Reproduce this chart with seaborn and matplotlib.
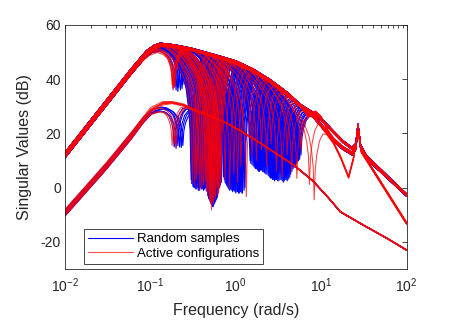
import numpy as np
import pandas as pd
import matplotlib
matplotlib.use("Agg")
import matplotlib.pyplot as plt
import seaborn as sns
from matplotlib.lines import Line2D
from matplotlib.ticker import LogLocator, LogFormatterSciNotation, NullFormatter, FixedLocator

# ---------------- data ----------------
# upper singular value band (lower / upper edge of the bundle), rad/s -> dB
UP_F  = [0.01, 0.03, 0.06, 0.09, 0.11, 0.13, 0.16, 0.2, 0.3, 0.45, 0.66, 1.0, 1.6, 2.5, 4.0, 5.6]
UP_LO = [11.0, 30.0, 42.0, 48.5, 51.0, 52.0, 52.0, 51.5, 50.5, 49.0, 47.5, 45.5, 42.5, 38.8, 34.0, 30.0]
UP_HI = [13.0, 32.0, 44.0, 50.5, 52.5, 53.3, 53.0, 52.6, 51.5, 50.0, 48.5, 46.8, 43.8, 40.0, 35.2, 31.0]

# high-frequency tails of the upper singular value
TAIL_A_F  = [8.0, 11.0, 14.0, 18.0, 23.0, 25.5, 27.0, 29.0, 34.0, 100.0]
TAIL_A_DB = [26.5, 21.5, 17.5, 14.5, 12.5, 14.5, 23.0, 15.0, 11.0, -2.7]
TAIL_B_F  = [8.0, 11.0, 14.0, 18.0, 23.0, 25.5, 27.0, 29.0, 34.0, 100.0]
TAIL_B_DB = [27.5, 24.0, 20.5, 17.0, 14.5, 16.0, 23.0, 15.5, 11.5, -2.7]
TAIL_C_F  = [7.0, 8.6, 10.0, 12.0, 14.0, 18.0, 23.0, 25.5, 27.0, 29.6, 100.0]
TAIL_C_DB = [26.5, 28.0, 26.0, 21.0, 18.0, 15.0, 13.0, 15.0, 22.5, 13.3, -13.1]
TAIL_D_F  = [8.0, 11.0, 14.0, 17.0, 21.0, 24.0, 27.0, 29.6, 100.0]
TAIL_D_DB = [26.5, 21.0, 16.5, 11.0, 3.8, 11.0, 21.0, 13.3, -13.1]

# lower singular value band
LOW_F  = [0.01, 0.031, 0.06, 0.1, 0.14, 0.18, 0.25, 0.32, 0.5, 0.79, 1.2, 1.94, 3.0, 4.76, 8.0, 12.0, 16.8, 30.0, 60.0, 100.0]
LOW_LO = [-10.5, 7.0, 18.0, 27.5, 30.5, 31.0, 30.0, 28.4, 26.3, 23.6, 20.4, 16.3, 12.4, 8.3, 2.4, -3.6, -9.0, -13.6, -18.9, -23.1]
LOW_HI = [-8.0, 9.5, 20.5, 29.5, 31.8, 31.8, 30.8, 29.0, 26.7, 23.8, 20.6, 16.5, 12.6, 8.5, 2.6, -3.4, -8.8, -13.4, -18.7, -22.9]

# notch shape: offset (decades) and fraction of notch depth
NOTCH_U = [-0.4, -0.28, -0.18, -0.11, -0.06, -0.03, -0.012, 0.0, 0.012, 0.03, 0.06, 0.1, 0.16]
NOTCH_W = [0.0, 0.05, 0.12, 0.2, 0.3, 0.45, 0.62, 1.0, 0.62, 0.42, 0.22, 0.08, 0.0]

# random samples: notch frequency (rad/s) and notch bottom (dB) of the upper value
BLUE_NF = [0.19, 0.2, 0.21, 0.215, 0.225, 0.235, 0.24,
           0.30, 0.305, 0.31, 0.315, 0.32, 0.325, 0.33, 0.34, 0.345, 0.35, 0.36, 0.365,
           0.375, 0.38, 0.39, 0.395, 0.405, 0.41, 0.42, 0.43, 0.44, 0.45, 0.46, 0.47,
           0.48, 0.49, 0.5, 0.51, 0.52, 0.53, 0.535, 0.545, 0.55, 0.56, 0.57, 0.58,
           0.59, 0.6, 0.61, 0.62, 0.63, 0.645, 0.66, 0.68,
           0.72, 0.735, 0.75, 0.765, 0.78, 0.795, 0.81, 0.83, 0.85, 0.865, 0.88, 0.9,
           0.92, 0.94, 0.96, 0.98, 1.0, 1.03, 1.05, 1.08, 1.1, 1.13, 1.15, 1.18, 1.2,
           1.25, 1.28,
           1.47, 1.5, 1.55, 1.6, 1.65, 1.7, 1.75, 1.8, 1.85, 1.9, 1.95, 2.0, 2.05, 2.1,
           2.17, 2.25, 2.32, 2.4, 2.47, 2.55, 2.62, 2.7, 2.78, 2.85, 2.92, 3.0, 3.1,
           3.2, 3.3, 3.4, 3.5, 3.6, 3.7, 3.8, 3.9, 4.0, 4.1, 4.2, 4.3, 4.4, 4.55, 4.7,
           4.85, 5.0, 5.15, 5.3, 5.45, 5.6, 5.8]
BLUE_NB = [37.0, 36.0, 35.5, 37.0, 36.0, 36.5, 38.0,
           3.0, 1.5, 2.0, 0.5, 0.5, 0.0, 0.0, -0.5, 0.5, -0.5, 0.0, -1.0,
           -1.0, 0.0, 0.0, -0.5, -0.5, 0.0, -1.0, -0.5, 0.0, -1.0, -1.5, -3.0,
           -4.0, -4.5, -5.0, -5.5, -6.0, -6.5, -7.0, -7.0, -6.5, -6.0, -5.5, -5.0,
           -4.5, -4.0, -3.5, -2.0, -1.0, 0.0, 1.0, 2.0,
           4.0, 3.0, 2.0, 1.5, 1.0, 0.5, 0.0, -0.5, -1.0, -0.5, -0.5, -1.0,
           -1.5, -1.0, -1.0, -1.5, -2.0, -1.5, -1.5, -2.0, -2.0, -1.5, -1.5, -2.0, -2.0,
           -1.0, 0.0,
           10.0, 9.0, 8.5, 8.0, 7.5, 7.0, 7.0, 6.5, 6.0, 6.0, 6.5, 6.5, 6.0, 5.8,
           5.5, 5.0, 5.0, 4.5, 4.0, 3.5, 3.5, 3.0, 3.0, 2.5, 3.0, 3.0, 2.5,
           2.5, 3.0, 3.0, 2.5, 2.0, 2.5, 3.0, 3.0, 2.5, 3.0, 3.5, 4.0, 5.0, 6.0, 7.0,
           7.5, 8.0, 9.0, 9.5, 10.0, 10.5, 12.0]
BLUE_TAIL = ["A", "A", "B", "A"]

# active configurations
RED_NF = [0.18, 0.183, 0.185, 0.19, 0.195,
          0.31, 0.33, 0.345, 0.36, 0.38, 0.4, 0.42, 0.44, 0.455, 0.47, 0.49, 0.5,
          0.51, 0.52, 0.535, 0.55, 0.565, 0.58, 0.6, 0.615, 0.63, 0.65, 0.67,
          0.75, 0.85, 0.95, 1.05, 1.15, 1.33,
          1.55, 1.75, 2.0, 2.3, 2.6, 3.0, 3.5, 4.0, 4.5,
          5.2, 5.8, 7.3, 8.3]
RED_NB = [38.0, 36.5, 36.0, 37.0, 37.5,
          2.0, 1.0, 3.0, 5.0, -1.0, 0.0, 1.0, 2.0, -1.0, -2.0, -4.0, -5.0,
          -6.0, -8.2, -5.0, -6.0, -3.0, -4.0, 0.0, -3.0, -2.0, 0.0, 1.7,
          3.0, 0.0, 5.0, 2.0, 8.0, -3.3,
          12.0, 10.0, 14.0, 8.0, 16.0, 6.0, 4.0, 12.0, 6.0,
          3.4, 14.0, 1.2, -4.5]
RED_TAIL = ["A", "B", "A", "C", "A", "B", "D", "A"]

# notches of the lower singular value (None: no notch)
BLUE_LOW_NF = [0.19, 0.2, 0.21, 0.22, 0.23, 0.24]
BLUE_LOW_NB = [15.0, 14.5, 15.5, 15.0, 14.8, 15.5]
RED_LOW_NF = [0.18, 0.19, 0.2, None, None, None, None, None, None]
RED_LOW_NB = [15.5, 16.0, 15.0, None, None, None, None, None, None]

# position of each curve inside its bundle (0 = lower edge, 1 = upper edge)
BAND_POS = [0.5, 0.1, 0.9, 0.3, 0.7, 0.0, 1.0, 0.4, 0.6, 0.2, 0.8]

TAILS = {"A": (TAIL_A_F, TAIL_A_DB), "B": (TAIL_B_F, TAIL_B_DB),
         "C": (TAIL_C_F, TAIL_C_DB), "D": (TAIL_D_F, TAIL_D_DB)}


def with_notch(f, d, nf, nb):
    lf = np.log10(np.asarray(f, float))
    d = np.asarray(d, float)
    if nf is None:
        return 10 ** lf, d
    u = np.log10(nf) + np.array(NOTCH_U)
    base = np.interp(u, lf, d)
    depth = np.interp(np.log10(nf), lf, d) - nb
    nd = base - depth * np.array(NOTCH_W)
    keep = (lf < u[0]) | (lf > u[-1])
    F = np.concatenate([lf[keep], u])
    D = np.concatenate([d[keep], nd])
    o = np.argsort(F)
    return 10 ** F[o], D[o]


def upper_curve(k, nf, nb, tail):
    p = BAND_POS[k % len(BAND_POS)]
    env = [lo + p * (hi - lo) for lo, hi in zip(UP_LO, UP_HI)]
    tf, td = TAILS[tail]
    f = UP_F + tf
    d = env + [v + (p - 0.5) * 0.8 for v in td]
    return with_notch(f, d, nf, nb)


def lower_curve(k, nf, nb):
    p = BAND_POS[k % len(BAND_POS)]
    env = [lo + p * (hi - lo) for lo, hi in zip(LOW_LO, LOW_HI)]
    return with_notch(LOW_F, env, nf, nb)


def frame(curves, tag):
    rows = []
    for i, (f, d) in enumerate(curves):
        rows.append(pd.DataFrame({"f": f, "db": d, "curve": f"{tag}{i}"}))
    return pd.concat(rows, ignore_index=True)


blue_curves = [upper_curve(k, nf, nb, BLUE_TAIL[k % len(BLUE_TAIL)])
               for k, (nf, nb) in enumerate(zip(BLUE_NF, BLUE_NB))]
blue_curves += [lower_curve(k, nf, nb) for k, (nf, nb) in enumerate(zip(BLUE_LOW_NF, BLUE_LOW_NB))]
red_curves = [upper_curve(k, nf, nb, RED_TAIL[k % len(RED_TAIL)])
              for k, (nf, nb) in enumerate(zip(RED_NF, RED_NB))]
red_curves += [lower_curve(k, nf, nb) for k, (nf, nb) in enumerate(zip(RED_LOW_NF, RED_LOW_NB))]

df_blue = frame(blue_curves, "b")
df_red = frame(red_curves, "r")

# ---------------- drawing ----------------
sns.set_theme(style="white")
plt.rcParams["font.family"] = ["Liberation Sans", "DejaVu Sans"]
plt.rcParams["mathtext.fontset"] = "custom"
plt.rcParams["mathtext.rm"] = "Liberation Sans"
plt.rcParams["mathtext.it"] = "Liberation Sans:italic"
plt.rcParams["mathtext.default"] = "regular"
plt.rcParams["axes.unicode_minus"] = False

AX_COL = "#262626"
fig = plt.figure(figsize=(4.49, 3.36), dpi=100)
ax = fig.add_axes([65 / 449, 1 - 269 / 336, 341.5 / 449, 244 / 336])

sns.lineplot(data=df_blue, x="f", y="db", units="curve", estimator=None, sort=False,
             color=(0, 0, 1), lw=0.8, legend=False, ax=ax)
sns.lineplot(data=df_red, x="f", y="db", units="curve", estimator=None, sort=False,
             color=(1, 0, 0), lw=0.75, alpha=0.75, legend=False, ax=ax)

ax.set_xscale("log")
ax.set_xlim(0.01, 100)
ax.set_ylim(-30, 60)
ax.set_yticks([-20, 0, 20, 40, 60])
ax.xaxis.set_major_locator(FixedLocator([0.01, 0.1, 1, 10, 100]))
ax.xaxis.set_major_formatter(LogFormatterSciNotation())
ax.xaxis.set_minor_locator(LogLocator(base=10, subs=np.arange(2, 10), numticks=20))
ax.xaxis.set_minor_formatter(NullFormatter())

ax.set_xlabel("Frequency (rad/s)", fontsize=11.5, color=AX_COL, labelpad=6)
ax.set_ylabel("Singular Values (dB)", fontsize=11.5, color=AX_COL, labelpad=6)
ax.tick_params(axis="both", which="both", direction="in", top=True, right=True,
               colors=AX_COL, labelcolor=AX_COL, labelsize=10, width=0.6)
ax.tick_params(axis="both", which="major", length=3.5)
ax.tick_params(axis="both", which="minor", length=2)
ax.tick_params(axis="x", which="major", pad=5)
ax.tick_params(axis="y", which="major", pad=3)
for s in ax.spines.values():
    s.set_color(AX_COL)
    s.set_linewidth(0.6)
    s.set_visible(True)

handles = [Line2D([], [], color=(0, 0, 1), lw=0.8),
           Line2D([], [], color=(1, 0, 0), lw=0.8, alpha=0.7)]
leg = ax.legend(handles, ["Random samples", "Active configurations"],
                loc="lower left", bbox_to_anchor=(0.0565, 0.0205), borderaxespad=0,
                fontsize=9.5, handlelength=3.4, handletextpad=0.3, borderpad=0.3,
                labelspacing=0.2, fancybox=False, framealpha=1, edgecolor=AX_COL)
leg.get_frame().set_linewidth(0.6)
for t in leg.get_texts():
    t.set_color("black")

fig.savefig("out.png", dpi=100)
